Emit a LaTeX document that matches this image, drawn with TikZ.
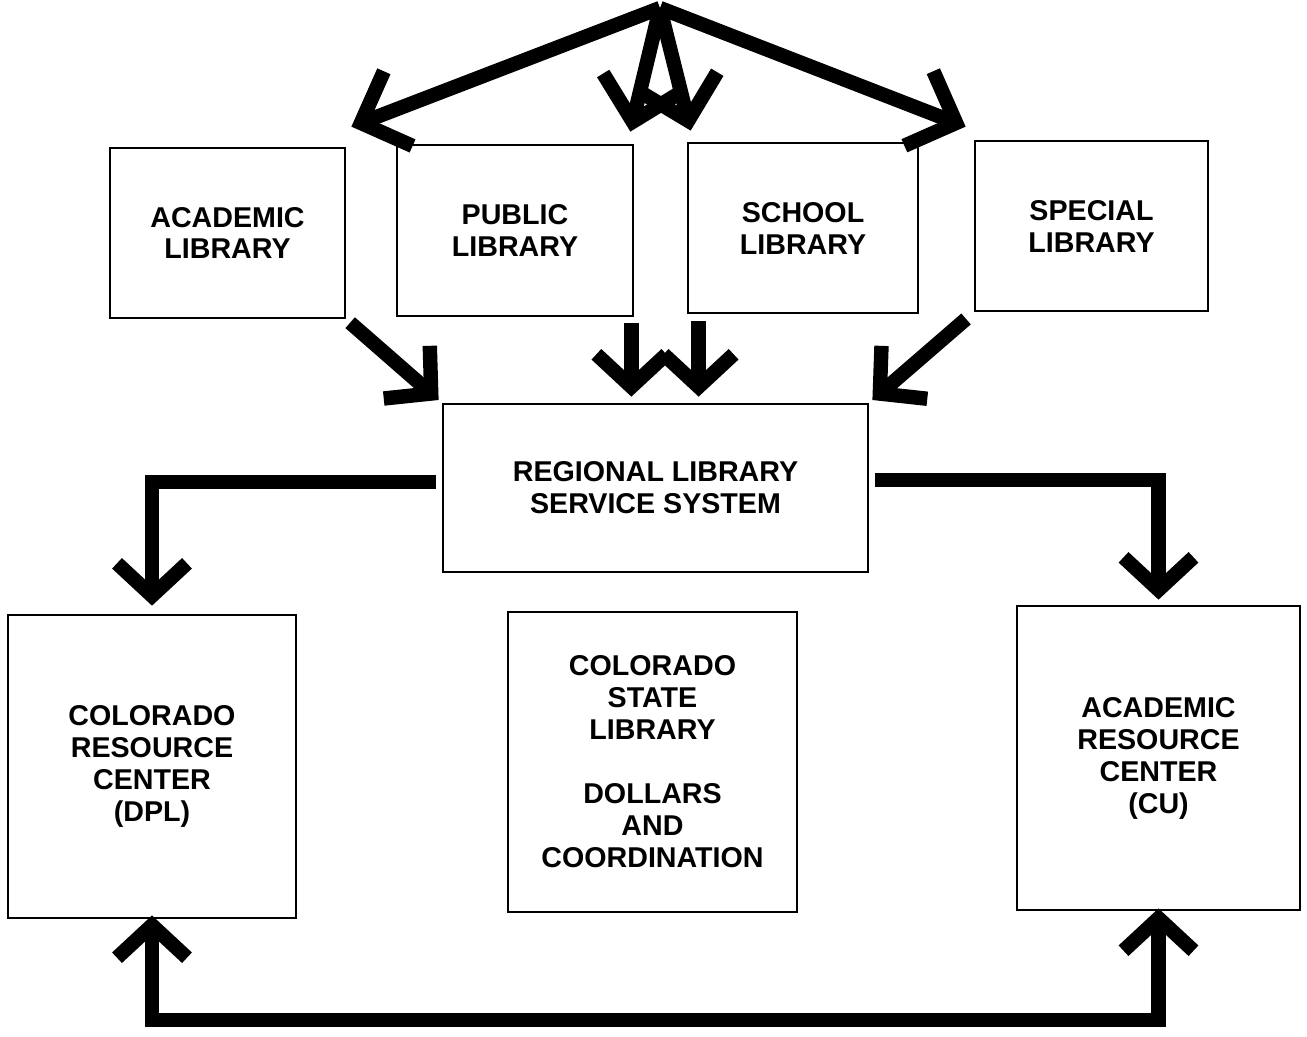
\documentclass[tikz,border=0pt]{standalone}
\usepackage{fontspec}
\setmainfont{Liberation Sans}
\usetikzlibrary{arrows.meta}

\tikzset{
	libbox/.style={draw, line width=1.6pt, align=center, inner sep=0pt,
		font=\bfseries\fontsize{16.3}{18.2}\selectfont},
	fat/.style={line width=8.2pt},
	longtip/.style={>={Straight Barb[length=0.8cm, width=1.6cm]}},
}

\begin{document}
\begin{tikzpicture}[x={(0.02cm,0)}, y={(0,-0.02cm)},
		>={Straight Barb[length=0.65cm, width=1.4cm]}]
		\useasboundingbox (0, 0) rectangle (1307, 1036);

		% libraries
		\node[libbox, minimum width=4.7cm, minimum height=3.4cm] (acad) at (227.5, 233) {ACADEMIC\\LIBRARY};
		\node[libbox, minimum width=4.72cm, minimum height=3.42cm] (pub) at (515, 230.5) {PUBLIC\\LIBRARY};
		\node[libbox, minimum width=4.6cm, minimum height=3.4cm] (sch) at (803, 228) {SCHOOL\\LIBRARY};
		\node[libbox, minimum width=4.66cm, minimum height=3.4cm] (spec) at (1091.5, 226) {SPECIAL\\LIBRARY};

		\node[libbox, minimum width=8.5cm, minimum height=3.36cm] (reg) at (655.5, 488) {REGIONAL LIBRARY\\SERVICE SYSTEM};

		\node[libbox, minimum width=5.76cm, minimum height=6.06cm] (cres) at (152, 766.5) {COLORADO\\RESOURCE\\CENTER\\(DPL)};
		\node[libbox, minimum width=5.78cm, minimum height=6cm] (csl) at (652.5, 762) {COLORADO\\STATE\\LIBRARY\\[18.2pt]DOLLARS\\AND\\COORDINATION};
		\node[libbox, minimum width=5.66cm, minimum height=6.08cm] (ares) at (1158.5, 758) {ACADEMIC\\RESOURCE\\CENTER\\(CU)};

		% fan out from the top
		\coordinate (apex) at (660, 8);
		\draw[fat, longtip, ->] (apex) -- ([shift={(5, -20)}]acad.north east);
		\draw[fat, longtip, ->] (apex) -- ([shift={(-4, -12)}]pub.north east);
		\draw[fat, longtip, ->] (apex) -- ([shift={(4, -11)}]sch.north west);
		\draw[fat, longtip, ->] (apex) -- ([shift={(-8, -13)}]spec.north west);

		% into the regional system
		\coordinate (pubout) at ([shift={(-3, 6)}]pub.south east);
		\coordinate (schout) at ([shift={(12, 7)}]sch.south west);
		\draw[fat, ->, shorten <=0.1cm, shorten >=0.08cm] (acad.south east) -- (reg.north west);
		\draw[fat, ->, shorten >=0.12cm] (pubout) -- (pubout |- reg.north);
		\draw[fat, ->, shorten >=0.12cm] (schout) -- (schout |- reg.north);
		\draw[fat, ->, shorten <=0.2cm, shorten >=0.08cm] (spec.south west) -- (reg.north east);

		% out to the resource centers
		\draw[fat, ->, shorten >=0.16cm] ([shift={(-6, -6)}]reg.west) -| (cres.north);
		\draw[fat, ->, shorten >=0.1cm] ([shift={(6, -8)}]reg.east) -| (ares.north);

		\coordinate (bot) at (0, 1020);
		\draw[fat, <->, shorten <=-0.08cm, shorten >=-0.06cm]
		(cres.south) -- (cres.south |- bot) -- (ares.south |- bot) -- (ares.south);
	\end{tikzpicture}
\end{document}
